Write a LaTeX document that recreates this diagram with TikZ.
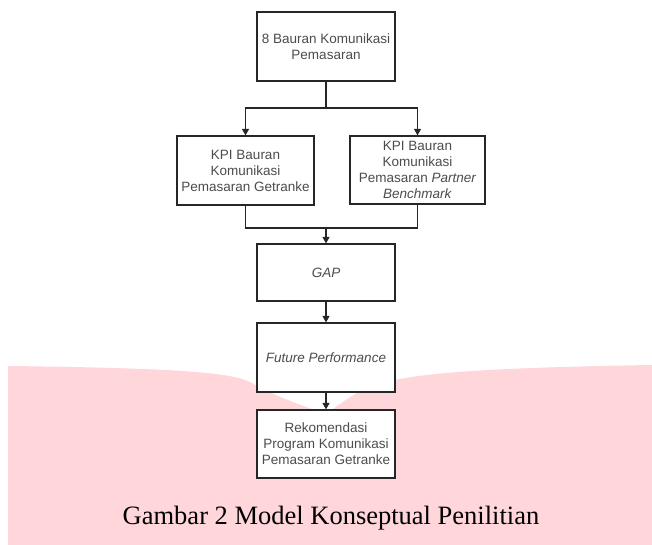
\documentclass[tikz,border=0pt]{standalone}
\usepackage{fontspec}
\setmainfont{Liberation Sans}
\newfontfamily\judulfont{Liberation Serif}
\usetikzlibrary{arrows.meta}
\definecolor{latarpink}{RGB}{255,214,218}
\definecolor{teksabu}{gray}{0.3}

\begin{document}
\begin{tikzpicture}[x=1pt,y=-1pt,
	kotak/.style={draw=black!85, line width=1.2pt, fill=white, align=center,
		text=teksabu, font=\fontsize{13.5}{16}\selectfont, inner sep=1pt},
	garis/.style={draw=black!85, line width=1.1pt},
	panah/.style={garis, -{Triangle[length=6.5pt,width=7pt]}}]
	\useasboundingbox (0,0) rectangle (652,545);
	% latar merah muda di bagian bawah
	\fill[latarpink] (8,545) -- (8,366) .. controls (170,368) and (230,372) .. (250,382)
		.. controls (270,394) and (300,405) .. (326,414)
		.. controls (340,404) and (355,392) .. (375,385)
		.. controls (410,374) and (470,368) .. (652,365) -- (652,545) -- cycle;
	% kotak-kotak
	\node[kotak, minimum width=138pt, minimum height=69pt] (bauran) at (326,46.5) {8 Bauran Komunikasi\\Pemasaran};
	\node[kotak, minimum width=137pt, minimum height=69pt] (kpigetranke) at (245.5,170.5) {KPI Bauran\\Komunikasi\\Pemasaran Getranke};
	\node[kotak, minimum width=135pt, minimum height=68pt] (kpipartner) at (417.5,170) {KPI Bauran\\Komunikasi\\Pemasaran \textit{Partner}\\\textit{Benchmark}};
	\node[kotak, minimum width=138pt, minimum height=57pt] (gap) at (326,272.5) {\textit{GAP}};
	\node[kotak, minimum width=138pt, minimum height=69pt] (future) at (326,357.5) {\textit{Future Performance}};
	\node[kotak, minimum width=138pt, minimum height=68pt] (rekom) at (326,444) {Rekomendasi\\Program Komunikasi\\Pemasaran Getranke};
	% titik cabang
	\coordinate (pecah) at (326,108);
	\coordinate (gabung) at (326,228);
	% penghubung
	\draw[garis] (bauran.south) -- (pecah);
	\draw[panah] (pecah) -| (kpigetranke.north);
	\draw[panah] (pecah) -| (kpipartner.north);
	\draw[garis] (kpigetranke.south) |- (gabung);
	\draw[garis] (kpipartner.south) |- (gabung);
	\draw[panah] (gabung) -- (gap.north);
	\foreach \a/\b in {gap/future, future/rekom}{
		\draw[panah] (\a.south) -- (\b.north);
	}
	% judul gambar
	\node[font=\judulfont\fontsize{26.5}{30}\selectfont] (judul) at (331,518) {Gambar 2 Model Konseptual Penilitian};
\end{tikzpicture}
\end{document}
